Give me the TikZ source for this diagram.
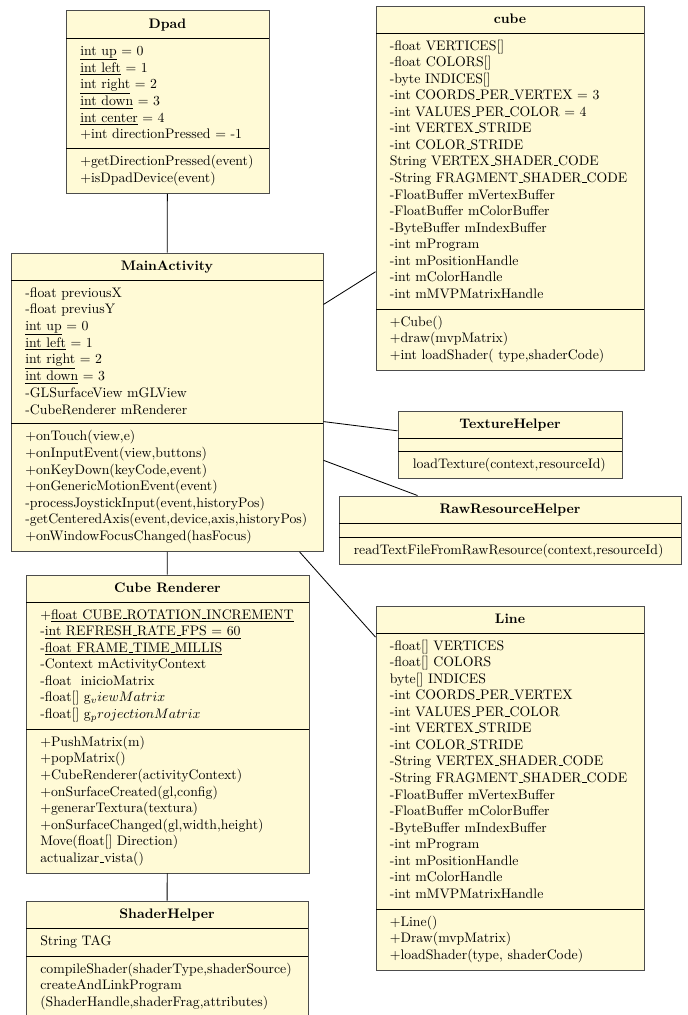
\documentclass[tikz,border=0pt]{standalone}
\usetikzlibrary{fit}
\definecolor{umlfill}{RGB}{255,250,214}
\newcommand{\us}{\leavevmode\kern.06em\vbox{\hrule width.3em}}
\newcommand{\rowsx}[1]{\begin{tabular}[t]{@{}l@{}}#1\end{tabular}}
\tikzset{
  classbox/.style={draw=black!70, fill=umlfill, line width=0.7pt, inner sep=0pt},
  sepline/.style={draw=black, line width=0.6pt},
  ttl/.style={anchor=base, font=\bfseries, inner sep=0pt},
  txt/.style={anchor=base west, inner sep=0pt},
  conn/.style={draw=black, line width=0.6pt}
}
\begin{document}
\begin{tikzpicture}[x=0.7246pt, y=-0.7246pt]
\useasboundingbox (0,0) rectangle (687,1015);

% ---------- boxes ----------
\node[classbox, fit={(66,10.5) (269,193.4)}] (dpad) {};
\node[classbox, fit={(376,6) (644,370)}] (cube) {};
\node[classbox, fit={(11,253) (323,551.3)}] (main) {};
\node[classbox, fit={(398,411) (622,478.5)}] (tex) {};
\node[classbox, fit={(339,496) (681,564)}] (raw) {};
\node[classbox, fit={(26,575) (309,873)}] (rend) {};
\node[classbox, fit={(376,606) (644,970)}] (line) {};
\node[classbox, fit={(26,901) (308,1017)}] (shader) {};

% ---------- connectors ----------
\draw[conn] (dpad) -- (main);
\draw[conn] (main) -- (cube);
\draw[conn] (main) -- (tex);
\draw[conn] (main) -- (raw);
\draw[conn] (main) -- (line);
\draw[conn] (main) -- (rend);
\draw[conn] (rend) -- (shader);

% ---------- separators ----------
\draw[sepline] (66,38) -- (269,38) (66,148.8) -- (269,148.8);
\draw[sepline] (376,33) -- (644,33) (376,309.4) -- (644,309.4);
\draw[sepline] (11,280) -- (323,280) (11,423.9) -- (323,423.9);
\draw[sepline] (398,438) -- (622,438) (398,451.5) -- (622,451.5);
\draw[sepline] (339,523.5) -- (681,523.5) (339,537.5) -- (681,537.5);
\draw[sepline] (26,602) -- (309,602) (26,729.4) -- (309,729.4);
\draw[sepline] (376,633) -- (644,633) (376,909.4) -- (644,909.4);
\draw[sepline] (26,928) -- (308,928) (26,956) -- (308,956);

% ---------- Dpad ----------
\node[ttl] (dpadT) at (167.5,28) {Dpad};
\node[txt] (dpadA) at (80,55) {\rowsx{%
\underline{int up} = 0\\
\underline{int left} = 1\\
\underline{int right} = 2\\
\underline{int down} = 3\\
\underline{int center} = 4\\
+int directionPressed = -1}};
\node[txt] (dpadM) at (80,165.8) {\rowsx{%
+getDirectionPressed(event)\\
+isDpadDevice(event)}};

% ---------- cube ----------
\node[ttl] (cubeT) at (510,23.5) {cube};
\node[txt] (cubeA) at (389.5,50) {\rowsx{%
-float VERTICES[]\\
-float COLORS[]\\
-byte INDICES[]\\
-int COORDS\us PER\us VERTEX = 3\\
-int VALUES\us PER\us COLOR = 4\\
-int VERTEX\us STRIDE\\
-int COLOR\us STRIDE\\
String VERTEX\us SHADER\us CODE\\
-String FRAGMENT\us SHADER\us CODE\\
-FloatBuffer mVertexBuffer\\
-FloatBuffer mColorBuffer\\
-ByteBuffer mIndexBuffer\\
-int mProgram\\
-int mPositionHandle\\
-int mColorHandle\\
-int mMVPMatrixHandle}};
\node[txt] (cubeM) at (389.5,326.4) {\rowsx{%
+Cube()\\
+draw(mvpMatrix)\\
+int loadShader( type,shaderCode)}};

% ---------- MainActivity ----------
\node[ttl] (mainT) at (167,270.5) {MainActivity};
\node[txt] (mainA) at (25,297) {\rowsx{%
-float previousX\\
-float previusY\\
\underline{int up} = 0\\
\underline{int left} = 1\\
\underline{int right} = 2\\
\underline{int down} = 3\\
-GLSurfaceView mGLView\\
-CubeRenderer mRenderer}};
\node[txt] (mainM) at (25,440.9) {\rowsx{%
+onTouch(view,e)\\
+onInputEvent(view,buttons)\\
+onKeyDown(keyCode,event)\\
+onGenericMotionEvent(event)\\
-processJoystickInput(event,historyPos)\\
-getCenteredAxis(event,device,axis,historyPos)\\
+onWindowFocusChanged(hasFocus)}};

% ---------- TextureHelper ----------
\node[ttl] (texT) at (510,428.5) {TextureHelper};
\node[txt] (texM) at (412.5,468.5) {loadTexture(context,resourceId)};

% ---------- RawResourceHelper ----------
\node[ttl] (rawT) at (510,513.5) {RawResourceHelper};
\node[txt] (rawM) at (353.5,554.5) {readTextFileFromRawResource(context,resourceId)};

% ---------- Cube Renderer ----------
\node[ttl] (rendT) at (167.5,592.5) {Cube Renderer};
\node[txt] (rendA) at (40,619) {\rowsx{%
+\underline{float CUBE\us ROTATION\us INCREMENT}\\
-\underline{int REFRESH\us RATE\us FPS = 60}\\
-\underline{float FRAME\us TIME\us MILLIS}\\
-Context mActivityContext\\
-float\ \ inicioMatrix\\
-float[] g$_viewMatrix$\\
-float[] g$_projectionMatrix$}};
\node[txt] (rendM) at (40,746.4) {\rowsx{%
+PushMatrix(m)\\
+popMatrix()\\
+CubeRenderer(activityContext)\\
+onSurfaceCreated(gl,config)\\
+generarTextura(textura)\\
+onSurfaceChanged(gl,width,height)\\
Move(float[] Direction)\\
actualizar\us vista()}};

% ---------- Line ----------
\node[ttl] (lineT) at (510,623.5) {Line};
\node[txt] (lineA) at (389.5,650) {\rowsx{%
-float[] VERTICES\\
-float[] COLORS\\
byte[] INDICES\\
-int COORDS\us PER\us VERTEX\\
-int VALUES\us PER\us COLOR\\
-int VERTEX\us STRIDE\\
-int COLOR\us STRIDE\\
-String VERTEX\us SHADER\us CODE\\
-String FRAGMENT\us SHADER\us CODE\\
-FloatBuffer mVertexBuffer\\
-FloatBuffer mColorBuffer\\
-ByteBuffer mIndexBuffer\\
-int mProgram\\
-int mPositionHandle\\
-int mColorHandle\\
-int mMVPMatrixHandle}};
\node[txt] (lineM) at (389.5,926.4) {\rowsx{%
+Line()\\
+Draw(mvpMatrix)\\
+loadShader(type, shaderCode)}};

% ---------- ShaderHelper ----------
\node[ttl] (shaderT) at (167,918.5) {ShaderHelper};
\node[txt] (shaderA) at (40,945) {String TAG};
\node[txt] (shaderM) at (40,973) {\rowsx{%
compileShader(shaderType,shaderSource)\\
createAndLinkProgram\\
(ShaderHandle,shaderFrag,attributes)}};
\end{tikzpicture}
\end{document}
